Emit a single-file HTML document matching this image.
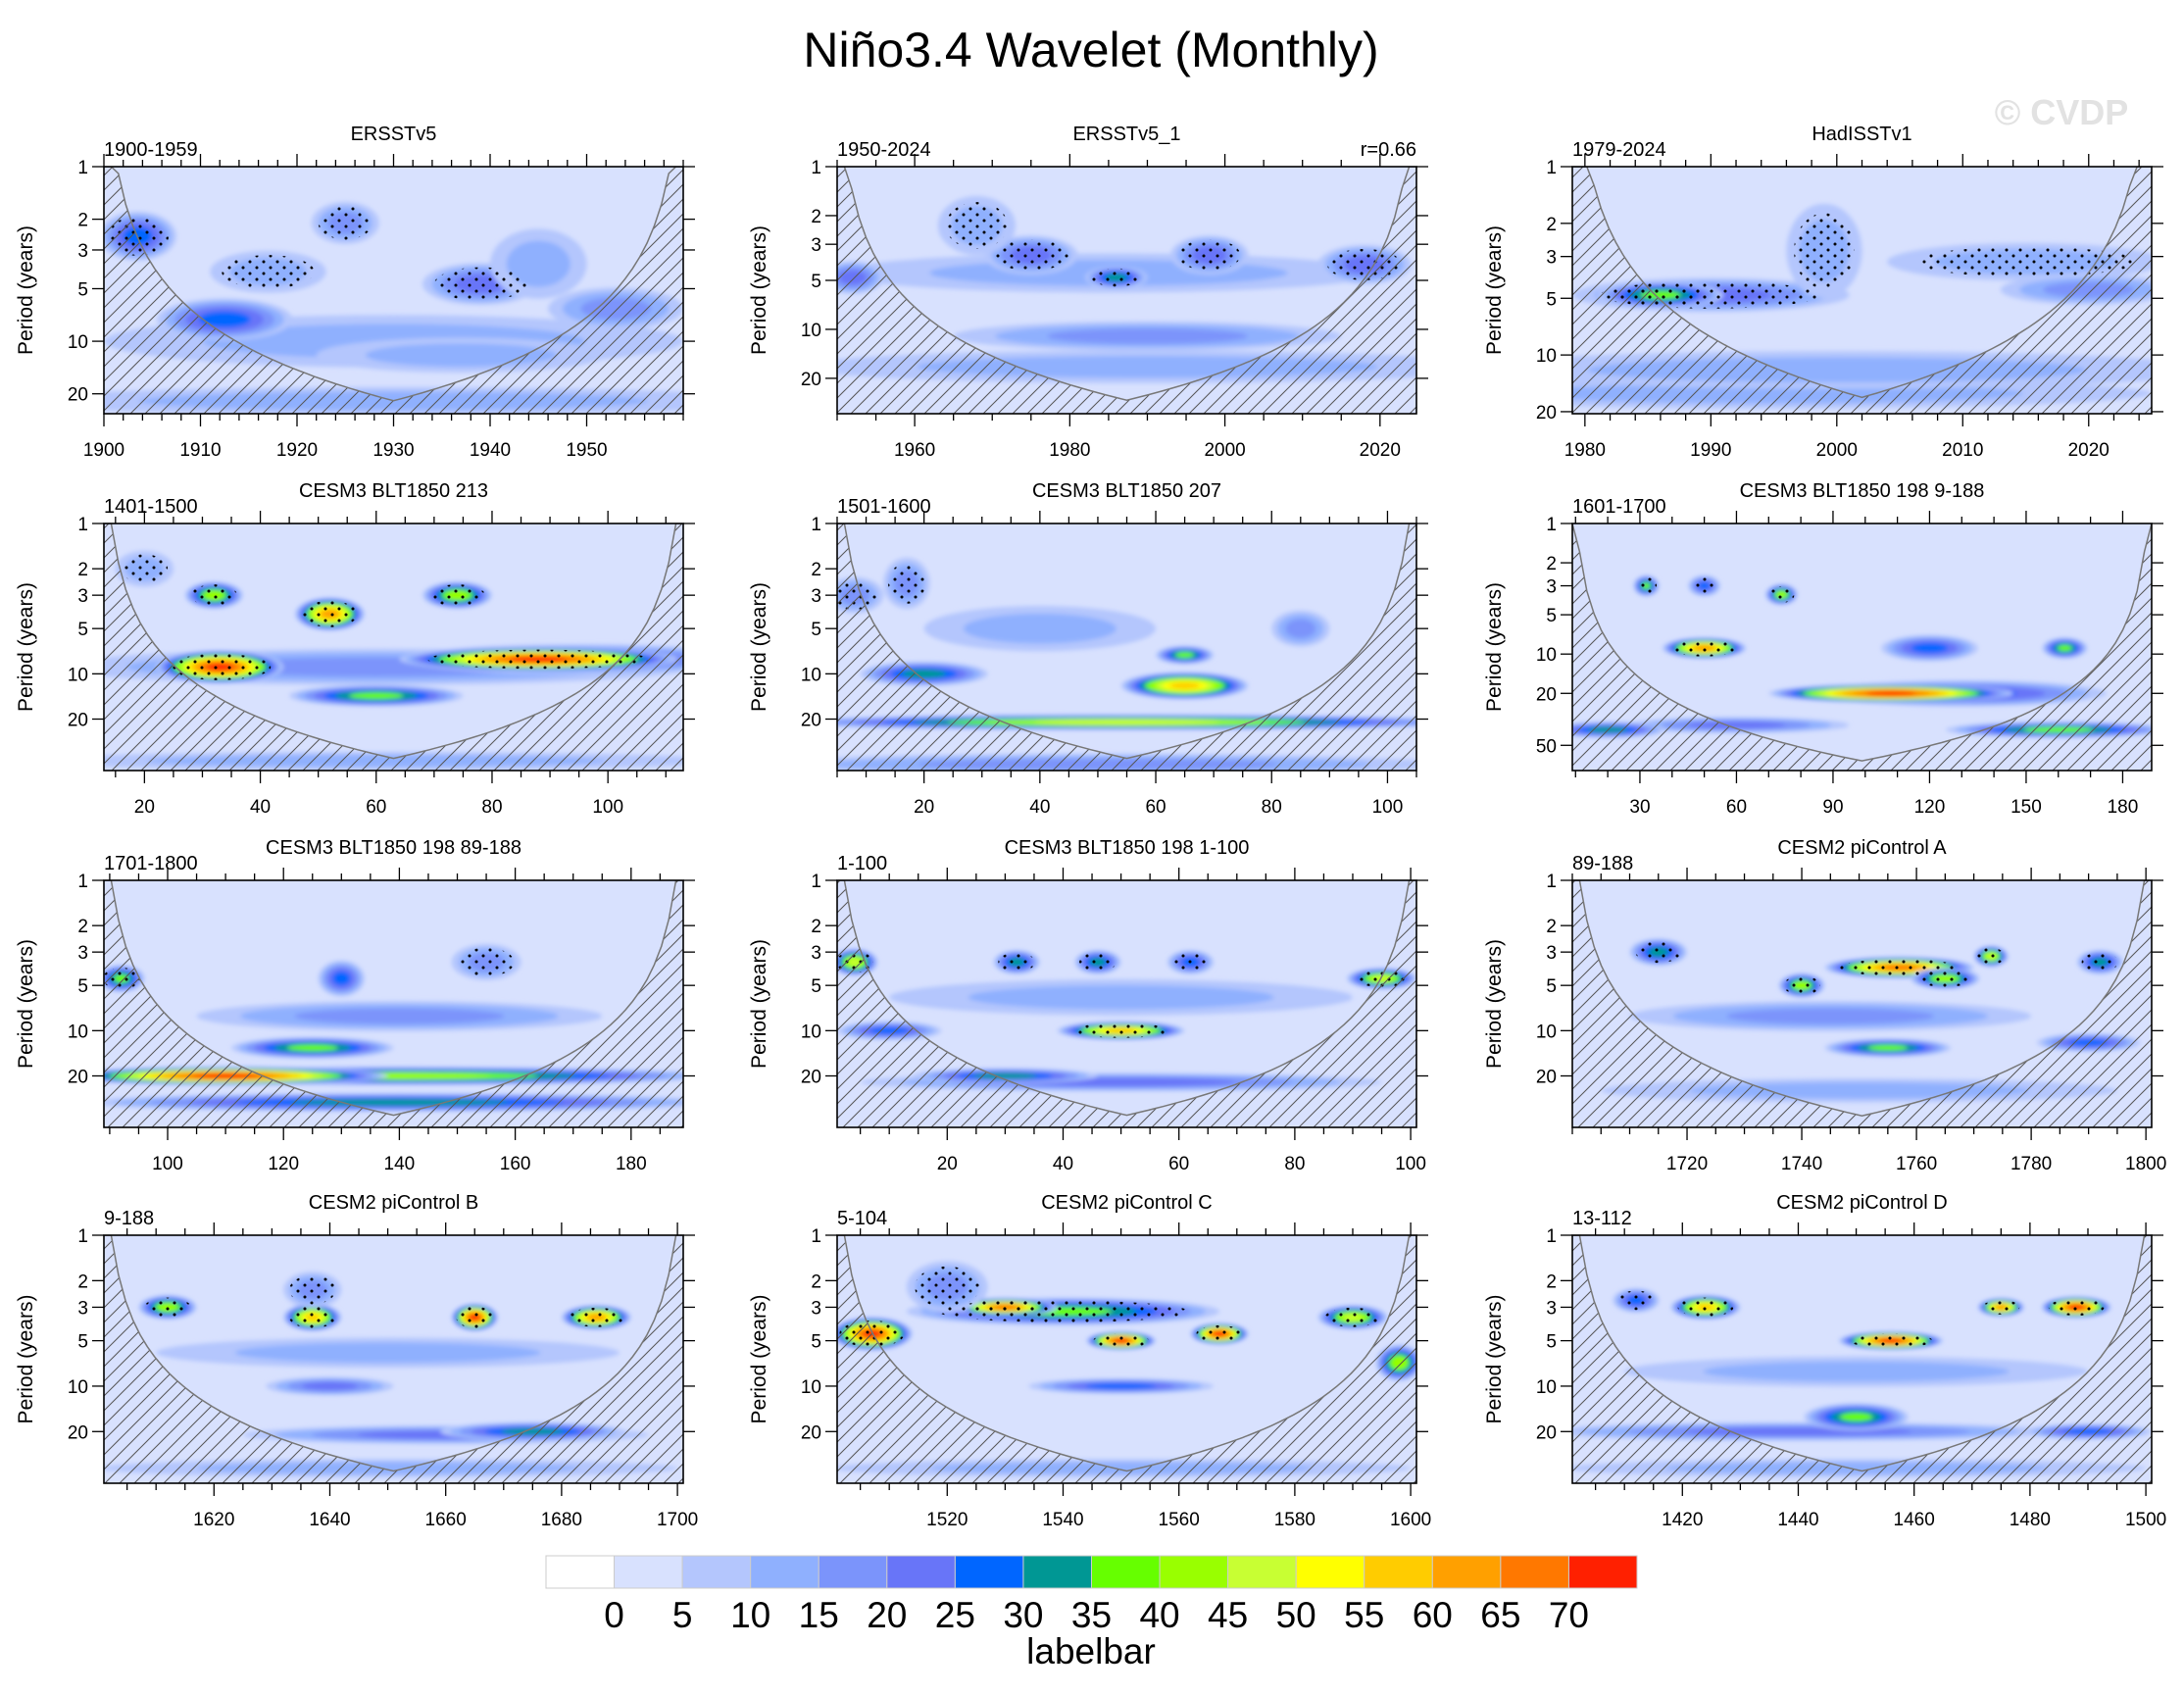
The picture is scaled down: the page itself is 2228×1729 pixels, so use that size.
<!DOCTYPE html>
<html><head><meta charset="utf-8"><style>
html,body{margin:0;padding:0;background:#fff;}
svg{display:block;font-family:"Liberation Sans",sans-serif;}
</style></head><body>
<svg id="fig" width="2228" height="1729" viewBox="0 0 2228 1729" xmlns="http://www.w3.org/2000/svg">
<defs>
<pattern id="hatch" patternUnits="userSpaceOnUse" width="15" height="15"><line x1="0" y1="15" x2="15" y2="0" stroke="#555" stroke-width="1"/><line x1="-2" y1="2" x2="2" y2="-2" stroke="#555" stroke-width="1"/><line x1="13" y1="17" x2="17" y2="13" stroke="#555" stroke-width="1"/></pattern>
<pattern id="dots" patternUnits="userSpaceOnUse" width="14" height="12"><circle cx="3" cy="3" r="1.5" fill="#000"/><circle cx="10" cy="9" r="1.5" fill="#000"/></pattern>
<filter id="soft" x="-5%" y="-5%" width="110%" height="110%"><feGaussianBlur stdDeviation="2.5"/></filter>
</defs>
<text x="1113" y="68" font-size="50" text-anchor="middle">Niño3.4 Wavelet (Monthly)</text>
<text x="2103" y="127" font-size="36" font-weight="bold" fill="#e2e2e2" text-anchor="middle">© CVDP</text>
<g id="panels"></g>
<g id="labelbar"></g>
<text x="1113" y="1697" font-size="37" text-anchor="middle">labelbar</text>
</svg>
<script>
const levelColors = ["#ffffff","#d8e1fe","#b4c6fd","#8fb0fe","#7b94fb","#6875f8","#0066ff","#009794","#66ff00","#99ff00","#c8ff33","#ffff00","#ffcc00","#ffa000","#ff7800","#ff2000"];
const levelLabels = ["0","5","10","15","20","25","30","35","40","45","50","55","60","65","70"];
// blobs: [time, period, halfWidthTime, halfHeightDecades, peakLevel, significant]
const blobsR1C1 = [[1930,22,40,0.08,3,0],[1930,10,30,0.15,3,0],[1937,12,15,0.1,3,0],[1912.5,7.5,7,0.12,6,0],[1917,4,6,0.12,3,1],[1903.5,2.5,4,0.14,6,1],[1925,2.1,3.5,0.12,4,1],[1939,4.7,6,0.12,5,1],[1953,6.5,7,0.12,4,0],[1945,3.6,5,0.2,3,0]];
const blobsR1C2 = [[1990,17,45,0.1,3,0],[1985,4.5,35,0.12,3,0],[1990,11,25,0.09,4,0],[1975,3.5,6,0.12,5,1],[1998,3.5,5,0.12,5,1],[2018,4,6,0.12,5,1],[1952,4.8,4,0.1,5,0],[1968,2.3,5,0.18,3,1],[1986,4.8,4,0.07,7,1]];
const blobsR1C3 = [[1995,16,30,0.08,3,0],[2000,12,30,0.1,3,0],[1990,4.8,11,0.09,5,1],[1999,2.8,3,0.25,3,1],[2015,3.2,11,0.1,3,1],[2020,4.5,7,0.08,4,0],[1986,4.8,5,0.07,8,1]];
const blobsR2C1 = [[60,9,55,0.12,4,0],[60,38,60,0.06,3,0],[95,8,30,0.1,6,0],[60,14,15,0.07,8,0],[33,9,11,0.11,15,1],[88,8,24,0.08,15,1],[52,4,6,0.11,13,1],[32,3,5,0.09,9,1],[74,3,6,0.09,9,1],[20,2,5,0.12,3,1]];
const blobsR2C2 = [[50,40,60,0.07,4,0],[55,21,60,0.05,10,0],[65,12,11,0.09,12,0],[65,7.5,5,0.06,8,0],[20,10,11,0.08,7,0],[17,2.5,4,0.17,4,1],[8,3,5,0.12,4,1],[85,5,5,0.12,4,0],[40,5,20,0.15,3,0]];
const blobsR2C3 = [[130,20,45,0.1,6,0],[60,35,35,0.06,5,0],[160,38,35,0.06,8,0],[20,38,18,0.06,7,0],[108,20,38,0.07,15,0],[50,9,13,0.08,13,1],[32,3,4,0.08,8,1],[74,3.5,5,0.08,9,1],[50,3,5,0.08,6,1],[162,9,7,0.08,8,0],[120,9,15,0.1,6,0]];
const blobsR3C1 = [[140,8,35,0.1,4,0],[140,30,55,0.06,7,0],[140,20,55,0.06,9,0],[110,20,28,0.06,15,0],[125,13,14,0.07,8,0],[92,4.5,4,0.09,8,1],[130,4.5,4,0.12,6,0],[155,3.5,6,0.12,4,1]];
const blobsR3C2 = [[50,22,45,0.06,5,0],[30,20,16,0.05,7,0],[10,10,9,0.06,6,0],[50,10,11,0.06,12,1],[4,3.5,4,0.09,10,1],[32,3.5,4,0.08,7,1],[46,3.5,4,0.08,7,1],[62,3.5,4,0.08,6,1],[95,4.5,6,0.07,10,1],[50,6,40,0.12,3,0]];
const blobsR3C3 = [[1745,8,35,0.1,4,0],[1755,13,11,0.06,8,0],[1790,12,9,0.06,6,0],[1757,3.8,13,0.07,14,1],[1740,5,4,0.08,9,1],[1765,4.5,6,0.07,9,1],[1773,3.2,3,0.07,10,1],[1715,3,5,0.09,7,1],[1792,3.5,4,0.08,7,1],[1750,25,45,0.08,3,0]];
const blobsR4C1 = [[1660,21,35,0.06,5,0],[1675,20,16,0.06,7,0],[1640,10,11,0.06,5,0],[1665,3.5,4,0.09,15,1],[1686,3.5,6,0.08,13,1],[1637,3.5,5,0.09,12,1],[1612,3,5,0.08,9,1],[1637,2.3,5,0.12,4,1],[1650,6,40,0.1,3,0],[1650,35,50,0.06,3,0]];
const blobsR4C2 = [[1550,10,16,0.05,6,0],[1540,3.2,27,0.09,8,1],[1507,4.5,7,0.11,15,1],[1530,3,9,0.06,14,1],[1550,5,6,0.06,15,1],[1567,4.5,5,0.07,15,1],[1590,3.5,6,0.08,10,1],[1598,7,4,0.12,9,0],[1520,2.2,7,0.17,4,1],[1550,35,50,0.06,3,0]];
const blobsR4C3 = [[1440,20,45,0.06,5,0],[1490,20,11,0.05,6,0],[1450,16,9,0.09,8,0],[1456,5,9,0.06,15,1],[1488,3,6,0.07,15,1],[1424,3,6,0.08,12,1],[1475,3,4,0.06,13,1],[1412,2.7,4,0.08,6,1],[1450,35,50,0.06,3,0],[1450,8,40,0.1,3,0]];

const colX = [[106,697],[854,1445],[1604,2195]];
const rowY = [[170,422],[534,786],[898,1150],[1260,1513]];
const panels = [
 {r:0,c:0,t0:1900,t1:1960,pmax:26,xt:[1900,1910,1920,1930,1940,1950],mn:2,yt:[1,2,3,5,10,20],left:"1900-1959",title:"ERSSTv5",blobs:blobsR1C1},
 {r:0,c:1,t0:1950,t1:2024.7,pmax:33,xt:[1960,1980,2000,2020],mn:5,yt:[1,2,3,5,10,20],left:"1950-2024",title:"ERSSTv5_1",right:"r=0.66",blobs:blobsR1C2},
 {r:0,c:2,t0:1979,t1:2025,pmax:20.5,xt:[1980,1990,2000,2010,2020],mn:2,yt:[1,2,3,5,10,20],left:"1979-2024",title:"HadISSTv1",blobs:blobsR1C3},
 {r:1,c:0,t0:13,t1:113,pmax:44,xt:[20,40,60,80,100],mn:5,yt:[1,2,3,5,10,20],left:"1401-1500",title:"CESM3 BLT1850 213",blobs:blobsR2C1},
 {r:1,c:1,t0:5,t1:105,pmax:44,xt:[20,40,60,80,100],mn:5,yt:[1,2,3,5,10,20],left:"1501-1600",title:"CESM3 BLT1850 207",blobs:blobsR2C2},
 {r:1,c:2,t0:9,t1:189,pmax:78,xt:[30,60,90,120,150,180],mn:10,yt:[1,2,3,5,10,20,50],left:"1601-1700",title:"CESM3 BLT1850 198 9-188",blobs:blobsR2C3},
 {r:2,c:0,t0:89,t1:189,pmax:44,xt:[100,120,140,160,180],mn:5,yt:[1,2,3,5,10,20],left:"1701-1800",title:"CESM3 BLT1850 198 89-188",blobs:blobsR3C1},
 {r:2,c:1,t0:1,t1:101,pmax:44,xt:[20,40,60,80,100],mn:5,yt:[1,2,3,5,10,20],left:"1-100",title:"CESM3 BLT1850 198 1-100",blobs:blobsR3C2},
 {r:2,c:2,t0:1700,t1:1801,pmax:44,xt:[1720,1740,1760,1780,1800],mn:5,yt:[1,2,3,5,10,20],left:"89-188",title:"CESM2 piControl A",blobs:blobsR3C3},
 {r:3,c:0,t0:1601,t1:1701,pmax:44,xt:[1620,1640,1660,1680,1700],mn:5,yt:[1,2,3,5,10,20],left:"9-188",title:"CESM2 piControl B",blobs:blobsR4C1},
 {r:3,c:1,t0:1501,t1:1601,pmax:44,xt:[1520,1540,1560,1580,1600],mn:5,yt:[1,2,3,5,10,20],left:"5-104",title:"CESM2 piControl C",blobs:blobsR4C2},
 {r:3,c:2,t0:1401,t1:1501,pmax:44,xt:[1420,1440,1460,1480,1500],mn:5,yt:[1,2,3,5,10,20],left:"13-112",title:"CESM2 piControl D",blobs:blobsR4C3}
];
const NS="http://www.w3.org/2000/svg";
function mk(tag,attrs,parent){const e=document.createElementNS(NS,tag);for(const k in attrs)e.setAttribute(k,attrs[k]);if(parent)parent.appendChild(e);return e;}
const root=document.getElementById('panels');
panels.forEach((p,i)=>{
 const x0=colX[p.c][0],x1=colX[p.c][1],y0=rowY[p.r][0],y1=rowY[p.r][1];
 const lp=Math.log10(p.pmax);
 const xs=t=>x0+(t-p.t0)/(p.t1-p.t0)*(x1-x0);
 const ys=v=>y0+Math.log10(v)/lp*(y1-y0);
 const pxT=(x1-x0)/(p.t1-p.t0), pxD=(y1-y0)/lp;
 const g=mk('g',{},root);
 
 
 const cp=mk('clipPath',{id:'cp'+i},g);mk('rect',{x:x0,y:y0,width:x1-x0,height:y1-y0},cp);
 const plot=mk('g',{'clip-path':'url(#cp'+i+')'},g);
 const bg=mk('rect',{x:x0,y:y0,width:x1-x0,height:y1-y0,fill:levelColors[1]},plot);
 
 
 const bl=mk('g',{filter:'url(#soft)'},plot);
 p.blobs.forEach(b=>{
  const [t,per,hw,hd,L,sig]=b;
  for(let l=2;l<=L;l++){
   const f=Math.pow(1-(l-2)/(L-1),0.6);
   const e=mk('ellipse',{cx:xs(t),cy:ys(per),rx:Math.max(3,hw*f*pxT),ry:Math.max(3,hd*f*pxD),fill:levelColors[l]},bl);
   
   
  }
 });
 p.blobs.forEach(b=>{
  const [t,per,hw,hd,L,sig]=b;
  if(sig){
   const d=mk('ellipse',{cx:xs(t),cy:ys(per),rx:hw*0.8*pxT,ry:hd*0.8*pxD,fill:'url(#dots)'},plot);
   
   
  }
 });
 let pts=[];const N=80;
 for(let k=0;k<=N;k++){const t=p.t0+(p.t1-p.t0)*k/N;const c=Math.max(0.73*Math.min(t-p.t0,p.t1-t),0.6);let y=ys(Math.max(c,1));if(c<1)y=y0;pts.push([xs(t),Math.min(y,y1+5)]);}
 const poly=pts.map(q=>q[0].toFixed(1)+','+q[1].toFixed(1)).join(' ');
 const h=mk('polygon',{points:poly+' '+x1+','+(y1+5)+' '+x0+','+(y1+5),fill:'url(#hatch)'},plot);
 
 
 const cl=mk('polyline',{points:poly,fill:'none',stroke:'#777','stroke-width':1.5},plot);
 
 
 const fr=mk('rect',{x:x0,y:y0,width:x1-x0,height:y1-y0,fill:'none',stroke:'#000','stroke-width':1.6},g);
 
 
 const ax=mk('g',{stroke:'#000','stroke-width':1.3},g);
 const start=Math.ceil(p.t0/p.mn)*p.mn;
 for(let t=start;t<=p.t1;t+=p.mn){const X=xs(t);const maj=p.xt.includes(t);const L=maj?13:7;
  mk('line',{x1:X,y1:y1,x2:X,y2:y1+L},ax);mk('line',{x1:X,y1:y0,x2:X,y2:y0-L},ax);}
 p.xt.forEach(t=>{const tx=mk('text',{x:xs(t),y:y1+43,'font-size':19,'text-anchor':'middle'},g);tx.textContent=t;
  
  });
 p.yt.forEach(v=>{const Y=ys(v);mk('line',{x1:x0,y1:Y,x2:x0-12,y2:Y},ax);mk('line',{x1:x1,y1:Y,x2:x1+12,y2:Y},ax);
  const tx=mk('text',{x:x0-16,y:Y+7,'font-size':19,'text-anchor':'end'},g);tx.textContent=v;
  
  });
 const yl=mk('text',{x:0,y:0,'font-size':21,'text-anchor':'middle',transform:'translate('+(x0-73)+','+((y0+y1)/2)+') rotate(-90)'},g);yl.textContent='Period (years)';
 
 
 const lt=mk('text',{x:x0,y:y0-11,'font-size':20},g);lt.textContent=p.left;
 
 
 const tt=mk('text',{x:(x0+x1)/2,y:y0-27,'font-size':20,'text-anchor':'middle'},g);tt.textContent=p.title;
 
 
 if(p.right){const rt=mk('text',{x:x1,y:y0-11,'font-size':20,'text-anchor':'end'},g);rt.textContent=p.right;
  
  }
});
const lb=document.getElementById('labelbar');
const bx0=557,bx1=1670,by0=1587,by1=1620,bw=(bx1-bx0)/levelColors.length;
levelColors.forEach((c,k)=>{const r=mk('rect',{x:bx0+k*bw,y:by0,width:bw,height:by1-by0,fill:c,stroke:'#ccc','stroke-width':1},lb);
 
 });
levelLabels.forEach((s,k)=>{const t=mk('text',{x:bx0+(k+1)*bw,y:1660,'font-size':37,'text-anchor':'middle'},lb);t.textContent=s;
 
 });
</script>
</body></html>
